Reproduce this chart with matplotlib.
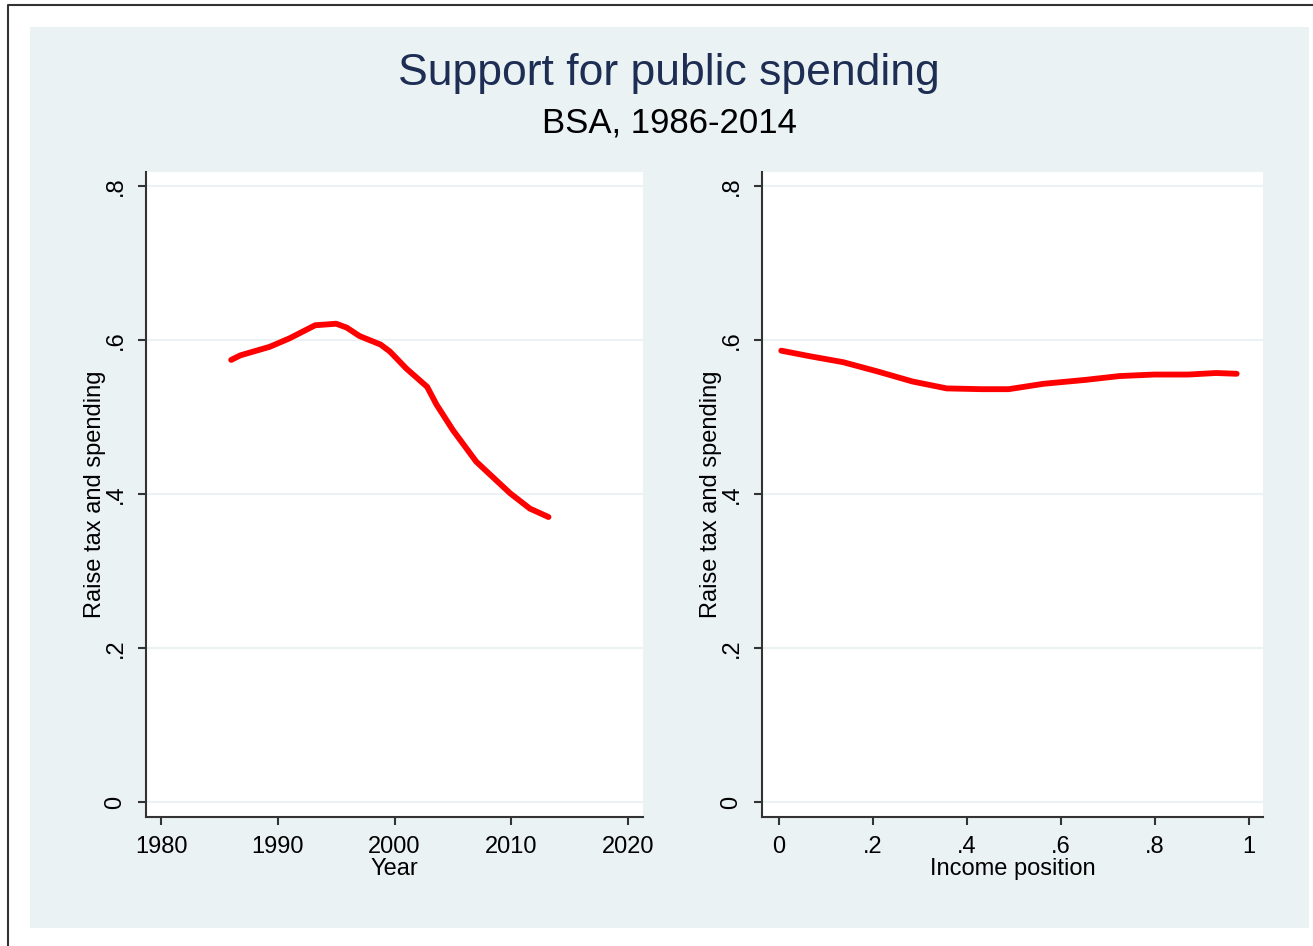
import matplotlib
matplotlib.use('Agg')
import matplotlib.pyplot as plt
from matplotlib.patches import Rectangle
from matplotlib.lines import Line2D

plt.rcParams['font.family'] = ['Liberation Sans', 'DejaVu Sans']

# smoothed support by survey year
years = [1986, 1986.8, 1989.3, 1991.0, 1993.2, 1995.0, 1995.9, 1997.0, 1998.8, 1999.6,
         2001.0, 2002.8, 2003.6, 2005.0, 2007.0, 2008.2, 2009.9, 2011.6, 2013.2]
support_year = [0.574, 0.580, 0.591, 0.602, 0.619, 0.621, 0.616, 0.605, 0.594, 0.585,
                0.563, 0.539, 0.516, 0.483, 0.442, 0.425, 0.401, 0.381, 0.370]

# smoothed support by income position
income = [0.005, 0.064, 0.137, 0.210, 0.284, 0.357, 0.431, 0.489, 0.563, 0.651,
          0.724, 0.798, 0.871, 0.930, 0.974]
support_income = [0.586, 0.579, 0.571, 0.559, 0.546, 0.537, 0.536, 0.536, 0.543, 0.548,
                  0.553, 0.555, 0.555, 0.557, 0.556]

year_ticks = [1980, 1990, 2000, 2010, 2020]
inc_ticks = [0, 0.2, 0.4, 0.6, 0.8, 1]
inc_labels = ['0', '.2', '.4', '.6', '.8', '1']
y_ticks = [0, 0.2, 0.4, 0.6, 0.8]
y_labels = ['0', '.2', '.4', '.6', '.8']

BG = '#eaf2f3'
W, H = 1313, 946
fig = plt.figure(figsize=(W / 100, H / 100), dpi=100)
fig.patch.set_facecolor('white')

# stata-like outer panel and the page border
fig.patches.append(Rectangle((30 / W, 1 - 928 / H), 1279 / W, 901 / H,
                             transform=fig.transFigure, facecolor=BG, edgecolor='none', zorder=-5))
fig.lines.append(Line2D([7.5 / W, 7.5 / W, 1.0], [0, 1 - 5 / H, 1 - 5 / H],
                        transform=fig.transFigure, color='#333333', lw=1.5, zorder=-4))

fig.text(669 / W, 1 - 73 / H, 'Support for public spending', ha='center', va='center',
         fontsize=32, color='#1e2d53')
fig.text(669 / W, 1 - 123 / H, 'BSA, 1986-2014', ha='center', va='center',
         fontsize=25, color='black')

ax1 = fig.add_axes([146 / W, 1 - 817 / H, 497 / W, 645 / H])
ax2 = fig.add_axes([762 / W, 1 - 817 / H, 501 / W, 645 / H])

def style(ax):
    ax.set_facecolor('white')
    for s in ['top', 'right']:
        ax.spines[s].set_visible(False)
    for s in ['left', 'bottom']:
        ax.spines[s].set_color('#333333')
        ax.spines[s].set_linewidth(1.5)
    ax.set_ylim(-0.0195, 0.818)
    ax.set_yticks(y_ticks)
    ax.set_yticklabels(y_labels, rotation=90, va='center')
    ax.yaxis.grid(True, color=BG, lw=1.5)
    ax.set_axisbelow(True)
    ax.tick_params(axis='both', length=6, width=1.5, color='#333333', labelsize=17)
    ax.tick_params(axis='y', pad=8)
    ax.tick_params(axis='x', pad=8)
    ax.set_ylabel('Raise tax and spending', fontsize=17, labelpad=-1)

style(ax1)
ax1.plot(years, support_year, color='red', lw=4.2, solid_capstyle='round')
ax1.set_xlim(1978.7, 2021.3)
ax1.set_xticks(year_ticks)
ax1.set_xlabel('Year', fontsize=17, labelpad=0)

style(ax2)
ax2.plot(income, support_income, color='red', lw=4.2, solid_capstyle='round')
ax2.set_xlim(-0.036, 1.03)
ax2.set_xticks(inc_ticks)
ax2.set_xticklabels(inc_labels)
ax2.set_xlabel('Income position', fontsize=17, labelpad=0)

fig.savefig('out.png', dpi=100, facecolor='white')
